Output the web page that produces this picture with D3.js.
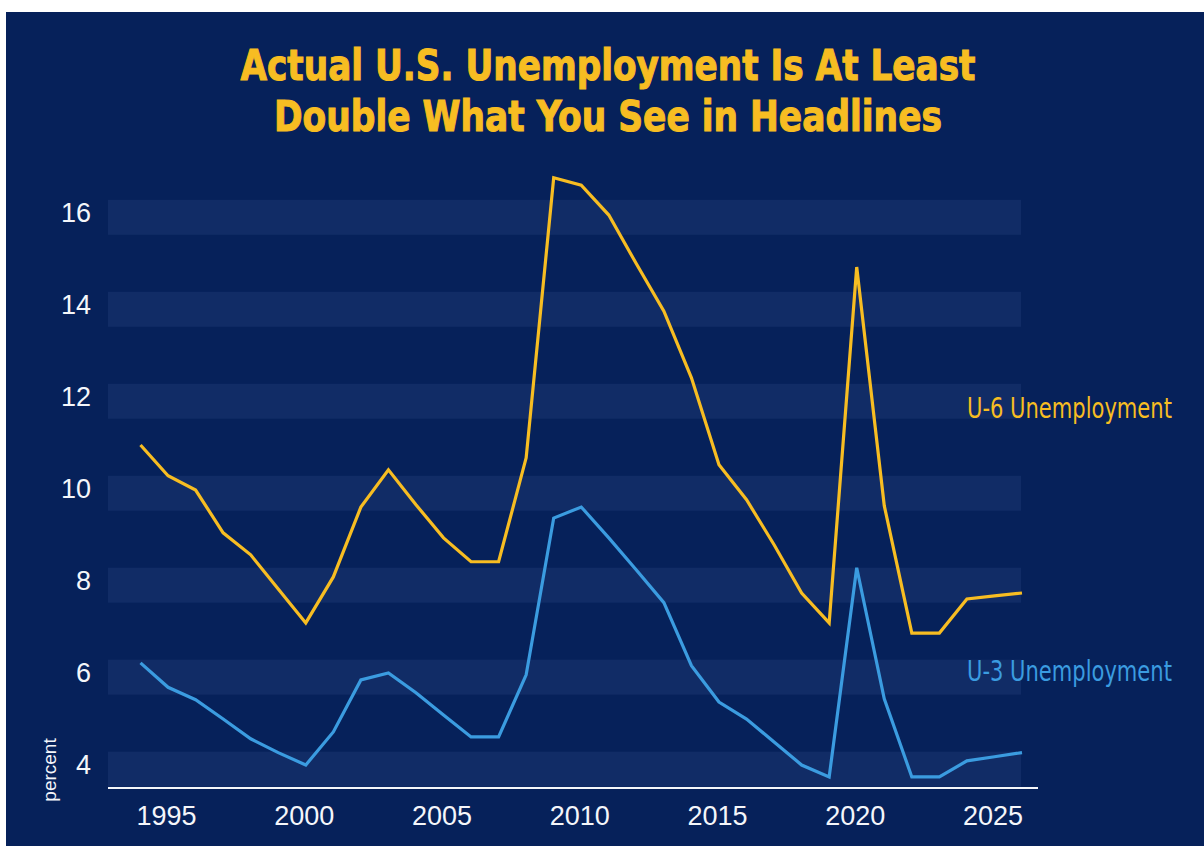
<!DOCTYPE html>
<html>
<head>
<meta charset="utf-8">
<script src="https://cdn.jsdelivr.net/npm/d3@7"></script>
<style>
  html, body { margin: 0; padding: 0; background: #ffffff; }
  svg { display: block; }
</style>
</head>
<body>
<svg id="chart" width="1204" height="846"></svg>
<script>
// Annual unemployment rates (percent), 1994–2026
const years = [1994, 1995, 1996, 1997, 1998, 1999, 2000, 2001, 2002, 2003, 2004,
               2005, 2006, 2007, 2008, 2009, 2010, 2011, 2012, 2013, 2014, 2015,
               2016, 2017, 2018, 2019, 2020, 2021, 2022, 2023, 2024, 2025, 2026];

const u6Rate = [10.89, 10.22, 9.91, 8.98, 8.50, 7.76, 7.02, 8.02, 9.54, 10.35, 9.59,
                8.87, 8.35, 8.35, 10.61, 16.70, 16.54, 15.89, 14.83, 13.80, 12.35, 10.46,
                9.70, 8.72, 7.67, 7.02, 14.76, 9.57, 6.80, 6.80, 7.54, 7.61, 7.67];

const u3Rate = [6.15, 5.62, 5.35, 4.93, 4.50, 4.20, 3.93, 4.65, 5.78, 5.93, 5.50,
                5.02, 4.54, 4.54, 5.89, 9.30, 9.54, 8.87, 8.17, 7.46, 6.09, 5.30,
                4.93, 4.43, 3.93, 3.67, 8.22, 5.37, 3.67, 3.67, 4.02, 4.11, 4.20];

const yTicks = [4, 6, 8, 10, 12, 14, 16];
const xTicks = [1995, 2000, 2005, 2010, 2015, 2020, 2025];
const titleLines = ["Actual U.S. Unemployment Is At Least", "Double What You See in Headlines"];
const seriesNames = ["U-6 Unemployment", "U-3 Unemployment"];
const yAxisTitle = "percent";

// Palette
const NAVY = "#06215a";
const BAND = "#112c66";
const GOLD = "#f7bd22";
const BLUE = "#3b9ce0";
const WHITE = "#f4f6fa";

const svg = d3.select("#chart");

// Backdrop panel
svg.append("rect")
  .attr("x", 6).attr("y", 12)
  .attr("width", 1198).attr("height", 834)
  .attr("fill", NAVY);

// Scales
const x = d3.scaleLinear().domain([1994, 2026]).range([140.5, 1022]);
const y = d3.scaleLinear().domain([3.43, 17]).range([788, 164]);

const plotLeft = 108, bandRight = 1021, axisRight = 1038;

// Horizontal shaded bands at each tick value
svg.append("g").selectAll("rect")
  .data(yTicks)
  .join("rect")
  .attr("x", plotLeft)
  .attr("width", bandRight - plotLeft)
  .attr("y", d => y(d + 0.22))
  .attr("height", d => y(Math.max(d - 0.54, 3.45)) - y(d + 0.22))
  .attr("fill", BAND);

// Y axis labels
const yAxis = svg.append("g")
  .attr("transform", `translate(${plotLeft},0)`)
  .call(d3.axisLeft(y).tickValues(yTicks).tickSize(0).tickPadding(17));
yAxis.select(".domain").remove();
yAxis.selectAll("text")
  .attr("fill", WHITE)
  .attr("dy", "0.42em")
  .style("font-family", "'Liberation Sans', Arial, sans-serif")
  .style("font-size", "27px");

// X axis labels
const xAxis = svg.append("g")
  .attr("transform", `translate(0,${y.range()[0]})`)
  .call(d3.axisBottom(x).tickValues(xTicks).tickFormat(d3.format("d")).tickSize(0).tickPadding(18));
xAxis.select(".domain").remove();
xAxis.selectAll("text")
  .attr("fill", WHITE)
  .attr("dx", -2)
  .style("font-family", "'Liberation Sans', Arial, sans-serif")
  .style("font-size", "27px");

// Baseline
svg.append("line")
  .attr("x1", plotLeft).attr("x2", axisRight)
  .attr("y1", y.range()[0]).attr("y2", y.range()[0])
  .attr("stroke", WHITE).attr("stroke-width", 2);

// Y axis title
svg.append("text")
  .attr("transform", "translate(49,770) rotate(-90)")
  .attr("text-anchor", "middle")
  .attr("dominant-baseline", "central")
  .attr("fill", WHITE)
  .style("font-family", "'Liberation Sans', Arial, sans-serif")
  .style("font-size", "19px")
  .text(yAxisTitle);

// Series lines
const line = d3.line()
  .x((d, i) => x(years[i]))
  .y(d => y(d));

svg.append("path")
  .datum(u3Rate)
  .attr("d", line)
  .attr("fill", "none")
  .attr("stroke", BLUE)
  .attr("stroke-width", 3.2)
  .attr("stroke-linejoin", "miter");

svg.append("path")
  .datum(u6Rate)
  .attr("d", line)
  .attr("fill", "none")
  .attr("stroke", GOLD)
  .attr("stroke-width", 3.2)
  .attr("stroke-linejoin", "miter");

// Series labels, squeezed horizontally to a condensed width
const labelFont = "'Liberation Sans Narrow', 'DejaVu Sans Condensed', Arial, sans-serif";
function condensedLabel(text, x0, baseline, color, width) {
  const t = svg.append("text")
    .attr("fill", color)
    .style("font-family", labelFont)
    .style("font-size", "28px")
    .text(text);
  const w = t.node().getComputedTextLength();
  const k = Math.min(1, width / w);
  t.attr("transform", `translate(${x0},${baseline}) scale(${k},1)`);
}
condensedLabel(seriesNames[0], 967, 418, GOLD, 205);
condensedLabel(seriesNames[1], 967, 681, BLUE, 205);

// Two-line title
const titleWidths = [735, 668];
const titleBaselines = [80, 131];
svg.append("g").selectAll("text")
  .data(titleLines)
  .join("text")
  .attr("x", 608)
  .attr("y", (d, i) => titleBaselines[i])
  .attr("text-anchor", "middle")
  .attr("fill", GOLD)
  .attr("stroke", GOLD)
  .attr("stroke-width", 1)
  .attr("textLength", (d, i) => titleWidths[i])
  .attr("lengthAdjust", "spacingAndGlyphs")
  .style("font-family", labelFont)
  .style("font-weight", "bold")
  .style("font-size", "42px")
  .text(d => d);
</script>
</body>
</html>
